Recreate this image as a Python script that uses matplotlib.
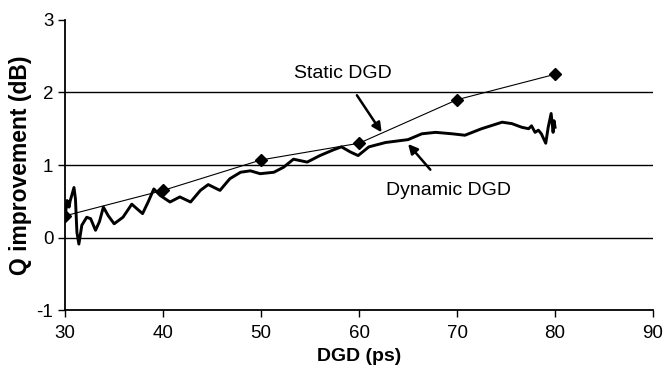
import matplotlib
matplotlib.use("Agg")
import matplotlib.pyplot as plt

plt.rcParams['font.family'] = ['Liberation Sans', 'DejaVu Sans']
plt.rcParams['axes.unicode_minus'] = False

# Static DGD (markers)
static_x = [30, 40, 50, 60, 70, 80]
static_y = [0.30, 0.65, 1.07, 1.30, 1.90, 2.25]

# Dynamic DGD (thick wavy line)
dyn_x = [30.0, 30.2, 30.4, 30.5, 30.9, 31.05, 31.2, 31.4, 31.7, 32.2, 32.6, 33.1,
         33.5, 33.9, 34.4, 35.0, 35.9, 36.8, 37.3, 37.9, 38.5, 39.05, 39.7, 40.7,
         41.7, 42.8, 43.8, 44.6, 45.8, 46.8, 47.9, 48.9, 49.9, 51.3, 52.3, 53.3,
         54.7, 56.0, 57.4, 58.2, 59.1, 59.9, 61.0, 62.7, 65.0, 66.4, 67.8, 69.5,
         70.8, 72.5, 74.6, 75.6, 76.6, 77.3, 77.6, 77.96, 78.3, 78.6, 79.05, 79.3,
         79.6, 79.8, 79.9, 80.0]
dyn_y = [0.30, 0.51, 0.42, 0.50, 0.69, 0.53, 0.07, -0.09, 0.17, 0.28, 0.26, 0.10,
         0.22, 0.42, 0.30, 0.19, 0.28, 0.46, 0.40, 0.33, 0.50, 0.67, 0.58, 0.49,
         0.56, 0.49, 0.65, 0.73, 0.65, 0.81, 0.90, 0.92, 0.88, 0.90, 0.97, 1.08,
         1.04, 1.13, 1.21, 1.25, 1.18, 1.13, 1.25, 1.31, 1.35, 1.43, 1.45, 1.43,
         1.41, 1.50, 1.59, 1.57, 1.52, 1.50, 1.54, 1.45, 1.48, 1.43, 1.30, 1.52,
         1.71, 1.45, 1.61, 1.52]

x_ticks = [30, 40, 50, 60, 70, 80, 90]
y_ticks = [-1, 0, 1, 2, 3]

fig = plt.figure(figsize=(6.65, 3.75), dpi=100)
ax = fig.add_axes([0.098, 0.173, 0.884, 0.774])

ax.plot(static_x, static_y, color='black', lw=0.8, zorder=3)
ax.plot(static_x, static_y, linestyle='none', marker='D', color='black', ms=6.5, zorder=4)
ax.plot(dyn_x, dyn_y, color='black', lw=2.1, zorder=3, solid_joinstyle='round')

ax.set_xlim(30, 90)
ax.set_ylim(-1, 3)
ax.set_xticks(x_ticks)
ax.set_yticks(y_ticks)
ax.tick_params(axis='both', labelsize=13.5, direction='out', length=5, width=1, colors='black')
ax.tick_params(axis='x', pad=6)

ax.yaxis.grid(True, color='black', lw=1)
for v, gl in zip(y_ticks, ax.get_ygridlines()):
    if v in (-1, 3):
        gl.set_visible(False)

ax.spines['top'].set_visible(False)
ax.spines['right'].set_visible(False)
ax.spines['left'].set_linewidth(1.3)
ax.spines['bottom'].set_linewidth(1.3)

ax.set_xlabel('DGD (ps)', fontsize=14, fontweight='bold', labelpad=4)
ax.set_ylabel('Q improvement (dB)', fontsize=16.5, fontweight='bold', labelpad=3)

ax.annotate('Static DGD', xy=(62.3, 1.45), xytext=(58.3, 2.26), fontsize=14,
            ha='center', va='center',
            arrowprops=dict(arrowstyle='-|>', color='black', lw=1.8, mutation_scale=14,
                            shrinkA=9, shrinkB=0))
ax.annotate('Dynamic DGD', xy=(65.0, 1.29), xytext=(69.1, 0.65), fontsize=14,
            ha='center', va='center',
            arrowprops=dict(arrowstyle='-|>', color='black', lw=1.8, mutation_scale=14,
                            shrinkA=9, shrinkB=0))

fig.savefig('out.png', dpi=100)
